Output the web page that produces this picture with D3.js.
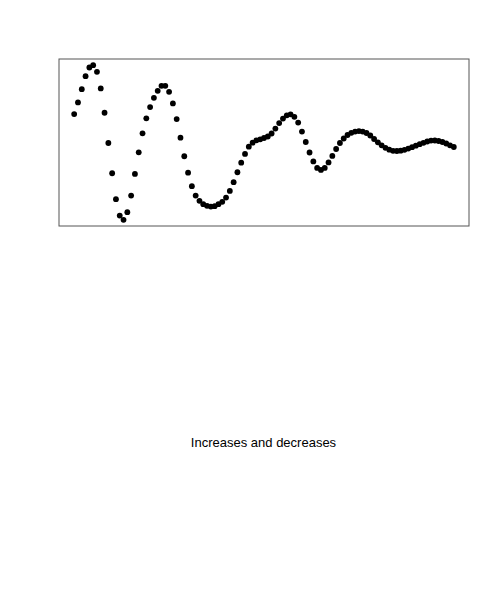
<!DOCTYPE html>
<html>
<head>
<meta charset="utf-8">
<script src="https://cdn.jsdelivr.net/npm/d3@7"></script>
<style>
  body { margin: 0; background: #fff; }
  svg { display: block; }
</style>
</head>
<body>
<svg id="graph"></svg>
<script>
// values (one per point, in order)
var values = [
  106, 117.7, 131, 144, 152.7, 155, 148.3, 131.7, 107.3, 77,
  46.7, 20.7, 4.3, 0, 7.7, 24.3, 46, 67.7, 86.7, 101.7,
  113, 122.3, 129.3, 134.3, 134.3, 128.3, 116.7, 101, 82.3, 63.7,
  47.3, 33.7, 24.3, 19, 15.7, 14, 13.3, 13.7, 15.7, 18,
  22.3, 29, 37.7, 47.7, 57.3, 66, 73.3, 77.3, 79.7, 80.7,
  82, 83.5, 86.5, 91.5, 97, 101.5, 104.7, 105.7, 103.2, 97.5,
  88.5, 78, 67.5, 58.5, 52, 50, 52, 57.5, 64, 71,
  77, 81.5, 85, 87.2, 88.5, 89, 88.5, 87, 84.5, 81,
  77.7, 74.7, 72.2, 70.3, 69.2, 69, 69.3, 70.2, 71.4, 72.8,
  74.3, 75.8, 77.2, 78.5, 79.4, 79.5, 79, 78, 76.5, 74.7,
  73
];
var title = "Increases and decreases";

var svg = d3.select("#graph")
    .attr("width", 500)
    .attr("height", 600);

var box = {left: 59, right: 469, top: 59, bottom: 226};

// R style: 4% padding on each side of the data range
function padded(ext) {
  var d = (ext[1] - ext[0]) * 0.04;
  return [ext[0] - d, ext[1] + d];
}

var idx = values.map(function(d, i) { return i + 1; });

var x = d3.scaleLinear()
    .domain(padded(d3.extent(idx)))
    .range([box.left, box.right]);

var y = d3.scaleLinear()
    .domain(padded(d3.extent(values)))
    .range([box.bottom, box.top]);

svg.append("rect")
    .attr("x", box.left)
    .attr("y", box.top)
    .attr("width", box.right - box.left)
    .attr("height", box.bottom - box.top)
    .attr("fill", "none")
    .attr("stroke", "#555")
    .attr("stroke-width", 1);

svg.append("g")
  .selectAll("circle")
  .data(values)
  .enter().append("circle")
    .attr("cx", function(d, i) { return x(i + 1); })
    .attr("cy", function(d) { return y(d); })
    .attr("r", 2.9)
    .attr("fill", "#000");

svg.append("text")
    .attr("x", 263.5)
    .attr("y", 447)
    .attr("text-anchor", "middle")
    .attr("font-family", "Liberation Sans, Arial, sans-serif")
    .attr("font-size", 13)
    .attr("fill", "#000")
    .text(title);
</script>
</body>
</html>
